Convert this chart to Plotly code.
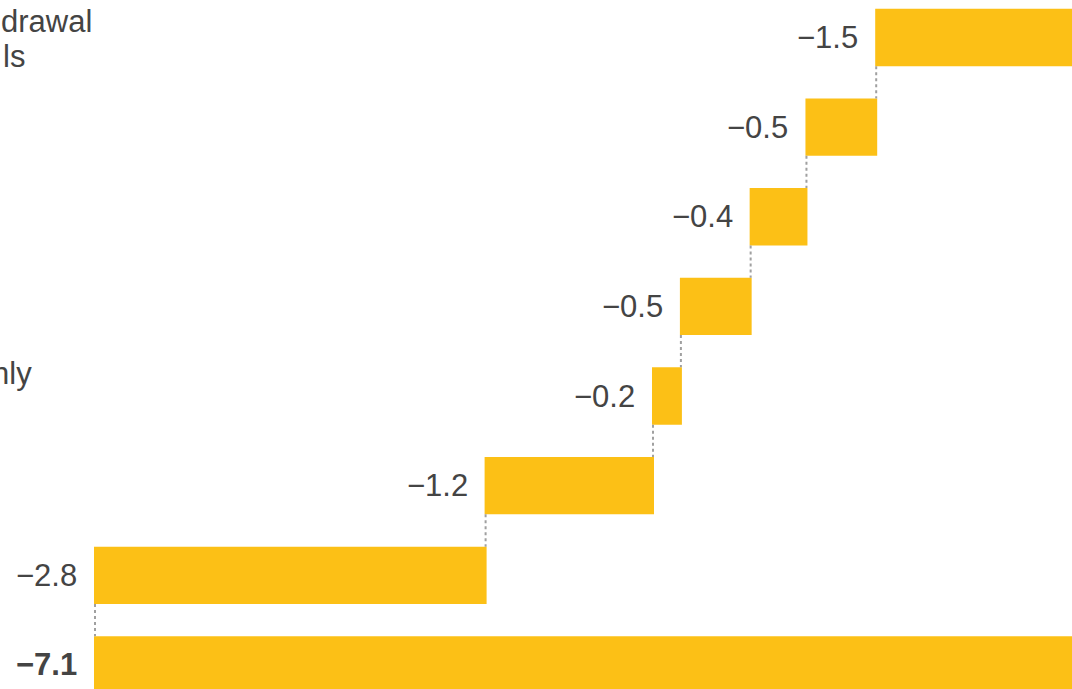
import plotly.graph_objects as go

# Waterfall steps (top to bottom) and the closing total
steps = ["s1", "s2", "s3", "s4", "s5", "s6", "s7", "total"]
values = [-1.5, -0.5, -0.4, -0.5, -0.2, -1.2, -2.8, -7.1]
measures = ["relative"] * 7 + ["total"]

BAR = "#FCC016"
TEXT = "#444444"
FONT = "Liberation Sans, Arial, Helvetica, sans-serif"

fig = go.Figure(go.Waterfall(
    orientation="h",
    y=steps,
    x=values,
    measure=measures,
    base=0,
    width=0.64,
    decreasing=dict(marker=dict(color=BAR)),
    increasing=dict(marker=dict(color=BAR)),
    totals=dict(marker=dict(color=BAR)),
    connector=dict(mode="between", line=dict(color="#a0a0a0", width=2, dash="dot")),
    hoverinfo="skip",
))

def fmt(v):
    s = f"{abs(v):.1f}"
    return ("\u2212" + s) if v < 0 else s

# value labels placed just left of each bar's end
running = 0.0
annotations = []
for name, v, m in zip(steps, values, measures):
    if m == "total":
        end = v
        label = f"<b>{fmt(v)}</b>"
    else:
        end = running + v
        running = end
        label = fmt(v)
    annotations.append(dict(
        x=end, y=name, xref="x", yref="y", text=label, showarrow=False,
        xanchor="right", yanchor="middle", xshift=-16,
        font=dict(family=FONT, size=31, color=TEXT),
    ))

# category captions running in from the left edge
for txt, cat, dy, dx in [("drawal", "s1", 16, -1), ("ls", "s1", -19, 1), ("nly", "s5", 23, -10)]:
    annotations.append(dict(
        x=0, y=cat, xref="paper", yref="y", text=txt, showarrow=False,
        xanchor="left", yanchor="middle", yshift=dy, xshift=dx,
        font=dict(family=FONT, size=31, color=TEXT),
    ))

px_per_unit = 139.5
left = -7.1 - 95 / px_per_unit
right = left + 1072 / px_per_unit

fig.update_layout(
    width=1072, height=689,
    margin=dict(l=0, r=0, t=0, b=0),
    paper_bgcolor="white", plot_bgcolor="white",
    showlegend=False,
    xaxis=dict(range=[left, right], visible=False, fixedrange=True),
    yaxis=dict(range=[7.268, -0.418], visible=False, fixedrange=True),
    annotations=annotations,
)

fig.write_html("out.html", config={"displayModeBar": False})
